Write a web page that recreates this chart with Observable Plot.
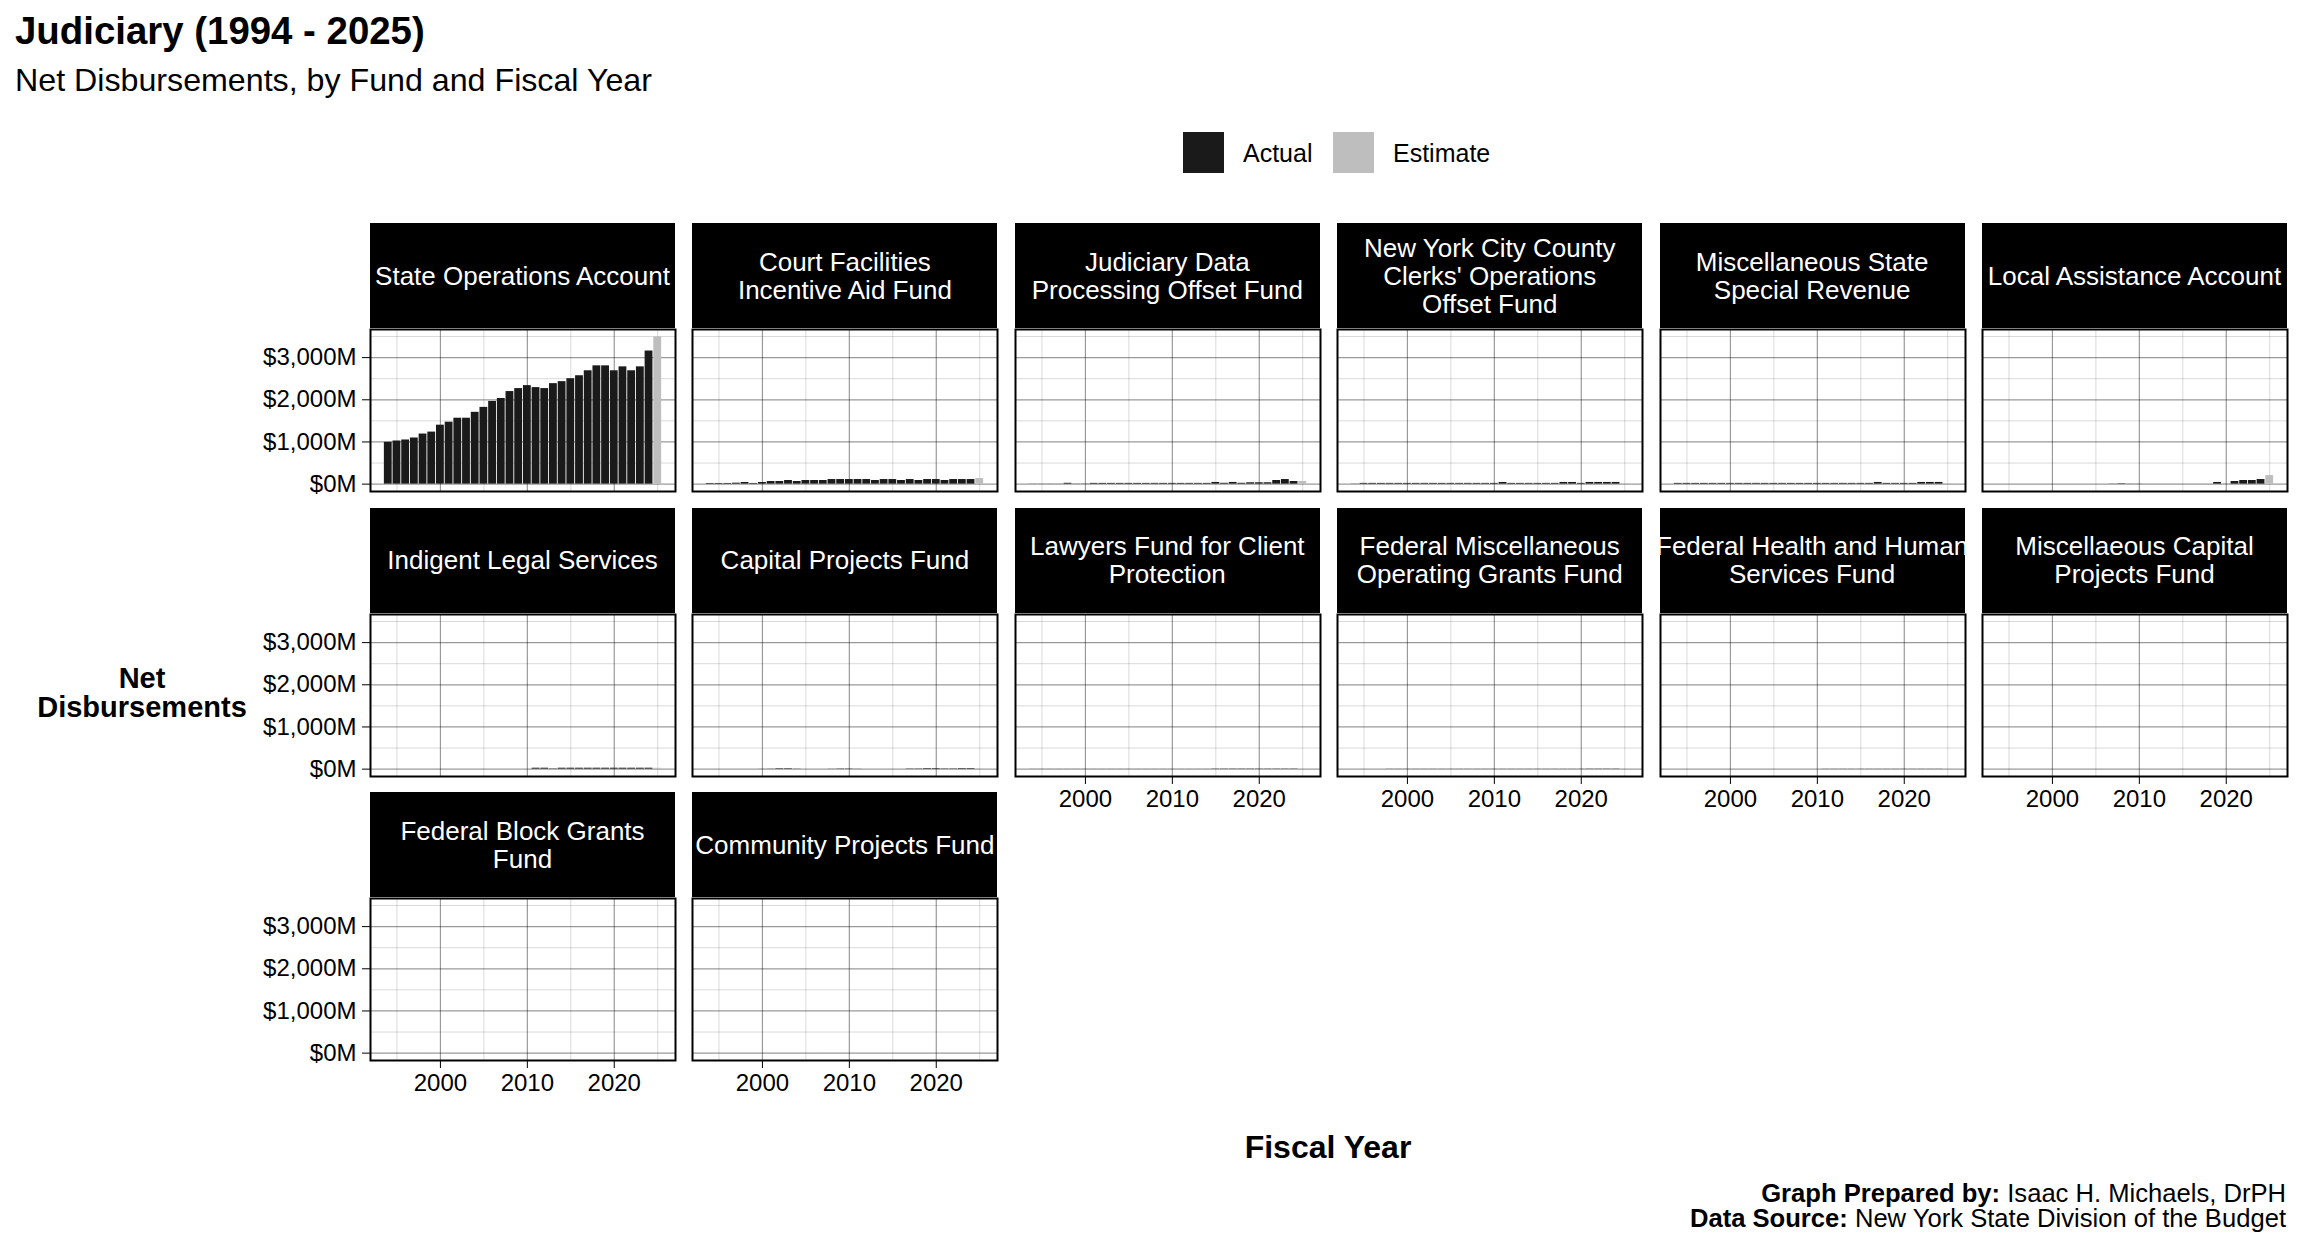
<!DOCTYPE html>
<html>
<head>
<meta charset="utf-8">
<script src="https://cdn.jsdelivr.net/npm/d3@7"></script>
<script src="https://cdn.jsdelivr.net/npm/@observablehq/plot@0.6"></script>
<style>
  body { margin: 0; background: #fff; font-family: "Liberation Sans", Arial, Helvetica, sans-serif; }
  #root { position: relative; width: 2304px; height: 1248px; overflow: hidden; background: #fff; color: #000; }
  .abs { position: absolute; line-height: 1; white-space: nowrap; }
  .strip { position: absolute; background: #000; color: #fff; display: flex; flex-direction: column;
           align-items: center; justify-content: center; overflow: hidden; font-size: 26px; line-height: 28px; }
  .strip span { white-space: nowrap; }
</style>
</head>
<body>
<div id="root"></div>
<script>
// ---------------- DATA ----------------
const years = [1994, 1995, 1996, 1997, 1998, 1999, 2000, 2001, 2002, 2003, 2004, 2005, 2006, 2007, 2008, 2009,
               2010, 2011, 2012, 2013, 2014, 2015, 2016, 2017, 2018, 2019, 2020, 2021, 2022, 2023, 2024, 2025];
const estimateYears = [2025];
const typeNames = ["Actual", "Estimate"];
const typeColors = ["#1a1a1a", "#bebebe"];

const fundLabels = [
  "State Operations Account",
  "Court Facilities\nIncentive Aid Fund",
  "Judiciary Data\nProcessing Offset Fund",
  "New York City County\nClerks' Operations\nOffset Fund",
  "Miscellaneous State\nSpecial Revenue",
  "Local Assistance Account",
  "Indigent Legal Services",
  "Capital Projects Fund",
  "Lawyers Fund for Client\nProtection",
  "Federal Miscellaneous\nOperating Grants Fund",
  "Federal Health and Human\nServices Fund",
  "Miscellaeous Capital\nProjects Fund",
  "Federal Block Grants\nFund",
  "Community Projects Fund"
];

// Net disbursements, $ millions, 1994..2025 (2025 = estimate)
const stateOperations = [992, 1023, 1047, 1094, 1188, 1234, 1398, 1469, 1563, 1563, 1703, 1820, 1961, 2031, 2195, 2266,
                         2336, 2289, 2266, 2383, 2430, 2500, 2570, 2688, 2805, 2805, 2688, 2781, 2688, 2781, 3156, 3492];
const courtFacilities = [16, 16, 16, 23, 39, 16, 39, 62, 62, 86, 62, 86, 86, 86, 109, 109,
                         109, 109, 109, 86, 109, 109, 86, 109, 86, 109, 109, 86, 109, 109, 109, 133];
const judiciaryData = [3, 3, 3, 3, 20, 4, 5, 18, 18, 18, 18, 18, 18, 18, 18, 18,
                       18, 18, 18, 18, 18, 40, 20, 40, 20, 32, 32, 32, 86, 109, 62, 62];
const nycClerks = [4, 18, 18, 18, 18, 18, 18, 18, 18, 18, 18, 18, 18, 18, 18, 18,
                   18, 40, 18, 18, 18, 18, 18, 18, 40, 40, 18, 40, 40, 40, 40, 15];
const miscStateSpecial = [18, 18, 18, 18, 18, 18, 18, 18, 18, 18, 18, 18, 18, 18, 18, 18,
                          18, 18, 18, 18, 18, 18, 18, 40, 18, 18, 18, 18, 40, 40, 40, 15];
const localAssistance = [null, null, null, null, null, null, null, null, null, null, null, null, null, 4, 10, 3,
                         3, 1, 1, 1, 1, 1, 1, 1, 1, 40, 2, 62, 86, 86, 109, 203];
const indigentLegal = [null, null, null, null, null, null, null, null, null, null, null, null, null, null, null, null,
                       null, 22, 22, 8, 22, 22, 22, 22, 22, 22, 22, 22, 22, 22, 22, 20];
const capitalProjects = [null, null, null, null, null, null, 2, 4, 12, 12, 4, null, null, null, 3, 7,
                         7, 3, null, null, null, null, null, 7, 7, 14, 14, 8, 8, 14, 14, 5];
const lawyersFund = [2, 2, 2, 2, 2, 2, 2, 2, 2, 2, 2, 2, 2, 2, 2, 2,
                     2, 2, 2, 2, 2, 6, 6, 6, 6, 6, 6, 6, 6, 6, 6, 3];
const fedMiscOperating = [null, null, null, null, 3, 3, 3, 3, 3, 3, 3, 3, 3, 3, 3, 3,
                          3, 3, 3, 3, 3, 3, 3, 3, 3, 3, 3, 5, 5, 5, 5, null];
const fedHealthHuman = [null, null, null, null, null, null, null, null, null, null, null, null, null, null, null, null,
                        null, 3, 3, 3, 3, 3, 3, 3, 3, 3, 3, 3, 3, 3, 3, 3];
const miscCapitalProjects = [null, null, null, null, null, null, null, null, null, null, null, null, null, null, null, null,
                             null, null, null, null, null, null, null, null, null, null, null, 0.3, 0.3, 0.3, 0.3, null];
const fedBlockGrants = [0.3, 0.3, 0.3, 0.3, 0.3, null, null, null, null, null, null, null, null, null, null, null,
                        null, null, null, null, null, null, null, null, null, null, null, null, null, null, null, null];
const communityProjects = [null, null, null, null, null, null, null, null, null, null, null, null, null, 0.3, 0.3, 0.3,
                           0.3, null, null, null, null, null, null, null, null, null, null, null, null, null, null, null];

const fundSeries = [stateOperations, courtFacilities, judiciaryData, nycClerks, miscStateSpecial, localAssistance,
                    indigentLegal, capitalProjects, lawyersFund, fedMiscOperating, fedHealthHuman, miscCapitalProjects,
                    fedBlockGrants, communityProjects];

const xTicks = [2000, 2010, 2020];
const xMinor = [1995, 2005, 2015, 2025];
const yTicks = [0, 1000, 2000, 3000];
const yMinor = [500, 1500, 2500, 3500];

// ---------------- TABLE ----------------
const rows = [];
fundSeries.forEach((series, f) => {
  series.forEach((v, k) => {
    if (v == null) return;
    rows.push({fund: f, year: years[k], value: v, type: estimateYears.includes(years[k]) ? typeNames[1] : typeNames[0]});
  });
});

// ggplot-like 5% expansion
const yMax = d3.max(rows, d => d.value);
const yDomain = [-0.05 * yMax, yMax * 1.05];
const xLo = d3.min(years) - 0.45, xHi = d3.max(years) + 0.45;
const xDomain = [xLo - 0.05 * (xHi - xLo), xHi + 0.05 * (xHi - xLo)];

// ---------------- LAYOUT ----------------
const FONT = '"Liberation Sans", Arial, Helvetica, sans-serif';
const NCOL = 6;
const X0 = 370, XSTEP = 322.4, PW = 305;
const Y0 = 223, YSTEP = 284.7, SH = 106, PH = 162;

const root = document.getElementById("root");
function addDiv(html, css, cls = "abs") {
  const d = document.createElement("div");
  d.className = cls;
  d.innerHTML = html;
  Object.assign(d.style, css);
  root.appendChild(d);
  return d;
}

// Titles
addDiv("Judiciary (1994 - 2025)", {left: "15px", top: "12px", fontSize: "38.4px", fontWeight: "bold"});
addDiv("Net Disbursements, by Fund and Fiscal Year", {left: "15px", top: "64px", fontSize: "32.2px"});

// Legend
typeNames.forEach((name, k) => {
  const kx = [1183, 1333][k];
  addDiv("", {left: kx + "px", top: "132px", width: "41px", height: "41px", background: typeColors[k]});
  addDiv(name, {left: (kx + 60) + "px", top: "141px", fontSize: "25px"});
});

// Panels
fundLabels.forEach((label, i) => {
  const col = i % NCOL, row = Math.floor(i / NCOL);
  const left = col === 0;
  const bottom = i + NCOL >= fundLabels.length;
  const px = X0 + col * XSTEP;
  const sy = Y0 + row * YSTEP;
  const py = sy + SH;

  // strip
  addDiv(label.split("\n").map(s => `<span>${s.replace(/'/g, "&#39;")}</span>`).join(""),
    {left: px + "px", top: sy + "px", width: PW + "px", height: (SH - 1) + "px"}, "strip");

  const ml = left ? 150 : 3, mb = bottom ? 50 : 3, mt = 3, mr = 3;
  const data = rows.filter(d => d.fund === i);
  const svg = Plot.plot({
    width: ml + PW + mr,
    height: mt + PH + mb,
    marginLeft: ml, marginRight: mr, marginTop: mt, marginBottom: mb,
    style: {fontFamily: FONT, fontSize: "24px", color: "#000", background: "transparent", overflow: "visible"},
    x: {type: "linear", domain: xDomain, ticks: xTicks, tickFormat: d => String(d), axis: bottom ? "bottom" : null,
        label: null, tickSize: 8, tickPadding: 5},
    y: {domain: yDomain, ticks: yTicks, tickFormat: d => "$" + d3.format(",")(d) + "M", axis: left ? "left" : null,
        label: null, tickSize: 8, tickPadding: 6},
    color: {domain: typeNames, range: typeColors},
    marks: [
      Plot.ruleY(yMinor, {stroke: "#000", strokeOpacity: 0.15, strokeWidth: 1}),
      Plot.ruleX(xMinor, {stroke: "#000", strokeOpacity: 0.15, strokeWidth: 1}),
      Plot.ruleY(yTicks, {stroke: "#000", strokeOpacity: 0.4, strokeWidth: 1.2}),
      Plot.ruleX(xTicks, {stroke: "#000", strokeOpacity: 0.4, strokeWidth: 1.2}),
      Plot.rectY(data, {x1: d => d.year - 0.45, x2: d => d.year + 0.45, y: "value", fill: "type"}),
      Plot.frame({stroke: "#000", strokeWidth: 2})
    ]
  });
  svg.style.position = "absolute";
  svg.style.left = (px - ml) + "px";
  svg.style.top = (py - mt) + "px";
  svg.style.maxWidth = "none";
  root.appendChild(svg);
});

// Axis titles
addDiv("Net<br>Disbursements", {left: "142px", top: "664px", transform: "translateX(-50%)", textAlign: "center",
  fontSize: "29px", lineHeight: "29px", fontWeight: "bold"});
addDiv("Fiscal Year", {left: "1328px", top: "1131px", transform: "translateX(-50%)", fontSize: "32px", fontWeight: "bold"});

// Caption
addDiv("<b>Graph Prepared by:</b> Isaac H. Michaels, DrPH<br><b>Data Source:</b> New York State Division of the Budget",
  {right: "18px", top: "1181px", textAlign: "right", fontSize: "25.6px", lineHeight: "25px"});
</script>
</body>
</html>
